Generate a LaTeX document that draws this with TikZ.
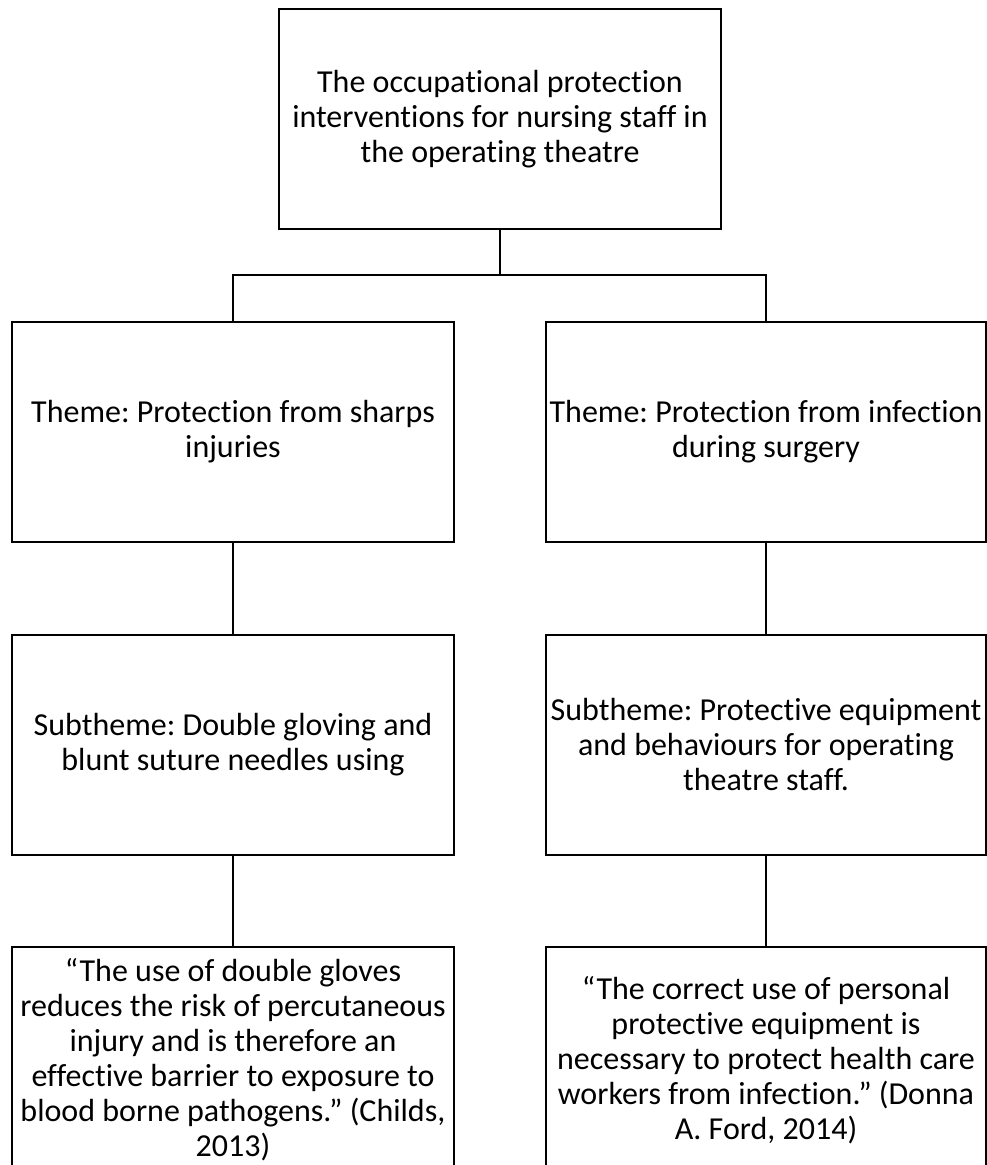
\documentclass[tikz,border=0pt]{standalone}
\usepackage{fontspec}
\setmainfont[Ligatures={NoCommon}]{Carlito}
\frenchspacing
\begin{document}
\begin{tikzpicture}[x=1pt,y=-1pt,
  box/.style={draw=black,line width=2pt,rectangle,inner sep=0pt,align=center,
    font=\fontsize{32}{35}\selectfont,text=black},
  conn/.style={draw=black,line width=2pt}]
\useasboundingbox (0,0) rectangle (987,1165);
\clip (0,0) rectangle (987,1165);
\node[box,minimum width=442,minimum height=220] (top) at (500,119)
  {The occupational protection\\interventions for nursing staff in\\the operating theatre};
\node[box,minimum width=442,minimum height=220] (thL) at (233,432)
  {Theme: Protection from sharps\\injuries};
\node[box,minimum width=440,minimum height=220] (thR) at (766,432)
  {Theme: Protection from infection\\during surgery};
\node[box,minimum width=442,minimum height=220] (subL) at (233,745)
  {Subtheme: Double gloving and\\blunt suture needles using};
\node[box,minimum width=440,minimum height=220] (subR) at (766,745)
  {Subtheme: Protective equipment\\and behaviours for operating\\theatre staff.};
\node[box,minimum width=442,minimum height=226] (botL) at (233,1060)
  {“The use of double gloves\\reduces the risk of percutaneous\\injury and is therefore an\\effective barrier to exposure to\\blood borne pathogens.” (Childs,\\2013)};
\node[box,minimum width=440,minimum height=226] (botR) at (766,1060)
  {“The correct use of personal\\protective equipment is\\necessary to protect health care\\workers from infection.” (Donna\\A. Ford, 2014)};
\coordinate (bus) at (500,275);
\draw[conn] (top.south) -- (bus);
\draw[conn] (thL.north) -- (thL.north |- bus) -- (thR.north |- bus) -- (thR.north);
\draw[conn] (thL.south) -- (subL.north);
\draw[conn] (thR.south) -- (subR.north);
\draw[conn] (subL.south) -- (botL.north);
\draw[conn] (subR.south) -- (botR.north);
\end{tikzpicture}
\end{document}
